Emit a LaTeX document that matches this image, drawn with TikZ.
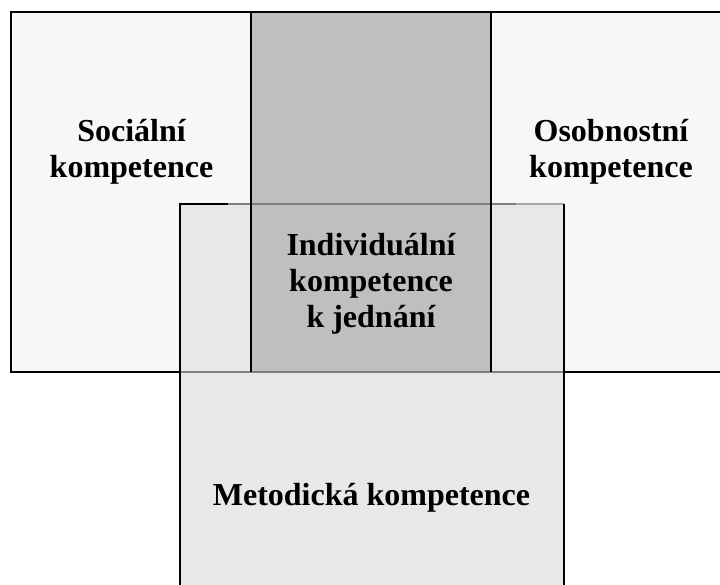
\documentclass[tikz,border=0pt]{standalone}
\usepackage{fontspec}
\setmainfont{Liberation Serif}
\begin{document}
\begin{tikzpicture}[x=1pt,y=-1pt,
  outline/.style={line width=2pt,draw=black},
  innerline/.style={line width=1.8pt,draw=black!50},
  faintline/.style={line width=1.3pt,draw=black!35},
  label/.style={font=\fontsize{32}{36}\selectfont\bfseries,align=center,anchor=base,inner sep=0pt}]
\useasboundingbox (0,0) rectangle (720,584);
\clip (0,0) rectangle (720,584);
% corner points of the three areas
\coordinate (topNW) at (11,12);
\coordinate (topSE) at (740,372);
\coordinate (colNW) at (251,12);
\coordinate (colSE) at (491,372);
\coordinate (botNW) at (180,204);
\coordinate (botSE) at (564,600);
% fills
\fill[black!3] (topNW) rectangle (topSE);
\fill[black!9] (botNW) rectangle (botSE);
\fill[black!25] (colNW) rectangle (colSE);
% softened edges inside the union
\draw[innerline] (228,204) -- (516,204);
\draw[faintline] (516,204) -- (564,204);
\draw[innerline] (180,372) -- (564,372);
% black outlines
\draw[outline] (740,12) -- (topNW) -- (11,372) -- (180,372);
\draw[outline] (564,372) -- (740,372);
\draw[outline] (colNW) -- (251,372);
\draw[outline] (491,12) -- (colSE);
\draw[outline] (180,600) -- (botNW) -- (228,204);
\draw[outline] (564,204) -- (564,600);
% labels (anchored at the baseline of their last line)
\node[label] (social) at (131.5,177) {Sociální\\kompetence};
\node[label] (personal) at (611,177) {Osobnostní\\kompetence};
\node[label] (individual) at (371,327) {Individuální\\kompetence\\k jednání};
\node[label] (method) at (371.5,505) {Metodická kompetence};
\end{tikzpicture}
\end{document}
